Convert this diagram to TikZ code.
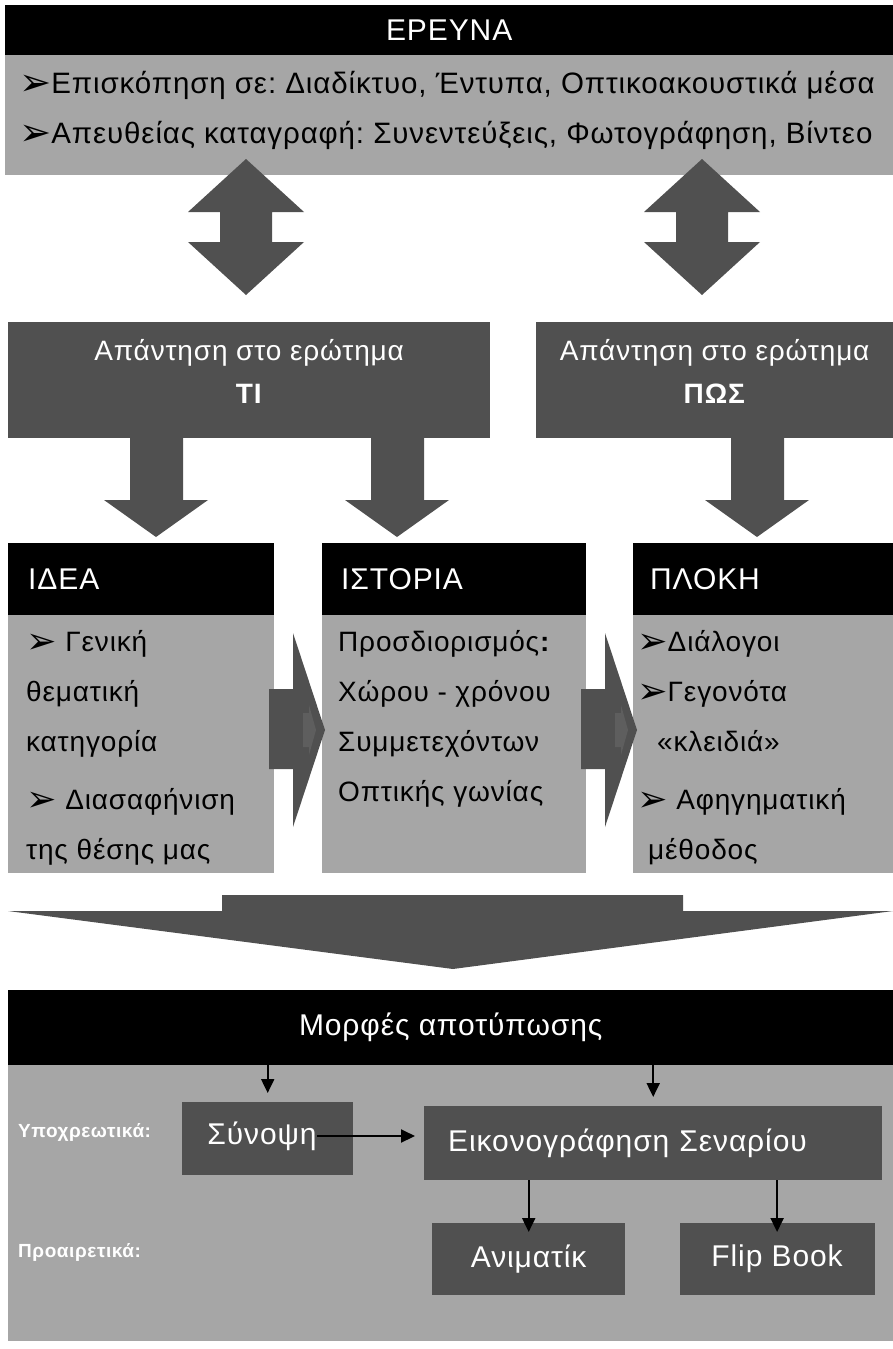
\documentclass[tikz,border=0pt]{standalone}
\usepackage{fontspec}
\usepackage{graphicx}
\setmainfont{Liberation Sans}[LetterSpace=3]
\newfontfamily\dingfont{DejaVu Sans}
\usetikzlibrary{arrows.meta, positioning}

\definecolor{boxgray}{RGB}{166,166,166}
\definecolor{arrowgray}{RGB}{80,80,80}
\definecolor{glintgray}{RGB}{94,94,94}
\newcommand{\pointer}{{\dingfont\raisebox{-2pt}{\scalebox{1.3}{➢}}}}
\frenchspacing

\tikzset{
  darkbar/.style={fill=black, text=white, inner sep=0pt, font=\fontsize{30}{36}\selectfont},
  lightbox/.style={fill=boxgray, inner sep=0pt},
  darkbox/.style={fill=arrowgray, text=white, inner sep=0pt, font=\fontsize{30}{36}\selectfont},
  whitetext/.style={text=white, inner sep=0pt, font=\fontsize{30}{36}\selectfont},
  bodytext/.style={anchor=north west, inner sep=0pt, align=left, font=\fontsize{28}{50}\selectfont},
  blockarrow/.style={fill=arrowgray},
  glint/.style={fill=glintgray},
  thinarrow/.style={-{Triangle[length=14pt,width=13pt]}, line width=2pt},
  sidelabel/.style={text=white, anchor=west, inner sep=0pt, font=\bfseries\fontsize{19}{19}\selectfont},
}

\begin{document}
\begin{tikzpicture}[x=1pt, y=-1pt]
  \useasboundingbox (0,0) rectangle (893,1349);

  \node[darkbar, anchor=north west, minimum width=888pt, minimum height=50pt] (research) at (5,5) {ΕΡΕΥΝΑ};
  \node[lightbox, anchor=north west, minimum width=888pt, minimum height=120pt] (sources) at (5,55) {};
  \node[bodytext, font=\fontsize{29.5}{50}\selectfont] (sourcestext) at (19,71)
       {\pointer Επισκόπηση σε: Διαδίκτυο, Έντυπα, Οπτικοακουστικά μέσα\\
        \pointer Απευθείας καταγραφή: Συνεντεύξεις, Φωτογράφηση, Βίντεο};

  \fill[blockarrow] (246,159) -- (304,212) -- (272,212) -- (272,242) -- (304,242) -- (246,295)
    -- (188,242) -- (220,242) -- (220,212) -- (188,212) -- cycle; % left double arrow
  \fill[blockarrow] (702,159) -- (760,212) -- (728,212) -- (728,242) -- (760,242) -- (702,295)
    -- (644,242) -- (676,242) -- (676,212) -- (644,212) -- cycle; % right double arrow

  \node[darkbox, anchor=north west, minimum width=482pt, minimum height=116pt] (what) at (8,322) {};
  \node[whitetext, align=center, font=\fontsize{28}{43}\selectfont] (whatlabel) at ([yshift=9pt]what.center)
       {Απάντηση στο ερώτημα\\\textbf{ΤΙ}};
  \node[darkbox, anchor=north west, minimum width=357pt, minimum height=116pt] (how) at (536,322) {};
  \node[whitetext, align=center, font=\fontsize{28}{43}\selectfont] (howlabel) at ([yshift=9pt]how.center)
       {Απάντηση στο ερώτημα\\\textbf{ΠΩΣ}};

  \fill[blockarrow] (130,438) -- (183,438) -- (183,500) -- (208,500) -- (156,537) -- (104,500) -- (130,500) -- cycle;
  \fill[blockarrow] (371,438) -- (424,438) -- (424,500) -- (449,500) -- (397,537) -- (345,500) -- (371,500) -- cycle;
  \fill[blockarrow] (731,438) -- (784,438) -- (784,500) -- (809,500) -- (757,537) -- (705,500) -- (731,500) -- cycle;

  % columns
  \node[darkbar, anchor=north west, minimum height=72pt, text width=226pt, inner xsep=20pt, align=left] (idea) at (8,543) {ΙΔΕΑ};
  \node[darkbar, anchor=north west, minimum height=72pt, text width=226pt, inner xsep=19pt, align=left] (story) at (322,543) {ΙΣΤΟΡΙΑ};
  \node[darkbar, anchor=north west, minimum height=72pt, text width=226pt, inner xsep=17pt, align=left] (plot) at (633,543) {ΠΛΟΚΗ};

  \node[lightbox, anchor=north west, minimum width=266pt, minimum height=258pt] (ideabox) at (8,615) {};
  \node[lightbox, anchor=north west, minimum width=264pt, minimum height=258pt] (storybox) at (322,615) {};
  \node[lightbox, anchor=north west, minimum width=260pt, minimum height=258pt] (plotbox) at (633,615) {};

  \node[bodytext] (ideatext) at (26,630)
       {\pointer{} Γενική\\ θεματική\\ κατηγορία\\[8pt] \pointer{} Διασαφήνιση\\ της θέσης μας};
  \node[bodytext] (storytext) at (338,630)
       {Προσδιορισμός\textbf{:}\\ Χώρου - χρόνου\\ Συμμετεχόντων\\ Οπτικής γωνίας};
  \node[bodytext] (plottext) at (637,630)
       {\pointer Διάλογοι\\ \pointer Γεγονότα\\ \hspace*{20pt}«κλειδιά»\\[8pt] \pointer{} Αφηγηματική\\ \hspace*{11pt}μέθοδος};

  \fill[blockarrow] (269,689) -- (293,689) -- (293,633) -- (325,730) -- (293,827) -- (293,769) -- (269,769) -- cycle;
  \fill[glint] (303,713) -- (309,713) -- (309,705) -- (316,730) -- (309,755) -- (309,747) -- (303,747) -- cycle;
  \fill[blockarrow] (581,689) -- (605,689) -- (605,633) -- (637,730) -- (605,827) -- (605,769) -- (581,769) -- cycle;
  \fill[glint] (615,713) -- (621,713) -- (621,705) -- (628,730) -- (621,755) -- (621,747) -- (615,747) -- cycle;

  \fill[blockarrow] (222,895) -- (683,895) -- (683,911) -- (893,911) -- (453,969) -- (8,911) -- (222,911) -- cycle; % wide arrow

  % forms
  \node[darkbar, anchor=north west, minimum width=885pt, minimum height=75pt] (forms) at (8,990) {Μορφές αποτύπωσης};
  \node[lightbox, anchor=north west, minimum width=885pt, minimum height=276pt] (formsarea) at (8,1065) {};

  \node[darkbox, anchor=north west, minimum width=171pt, minimum height=73pt] (synbox) at (182,1102) {};
  \node[whitetext] (synopsis) at (262,1136) {Σύνοψη};
  \node[darkbox, anchor=north west, minimum height=74pt, text width=410pt, inner xsep=24pt, align=left] (scenario) at (424,1106) {Εικονογράφηση Σεναρίου};
  \node[darkbox, anchor=north west, minimum width=193pt, minimum height=72pt] (animatic) at (432,1223) {Ανιματίκ};
  \node[darkbox, right=54pt of animatic, minimum width=195pt, minimum height=72pt] (flipbook) {Flip Book};

  \node[sidelabel] (mandatory) at (18,1132) {Υποχρεωτικά:};
  \node[sidelabel] (optional) at (18,1252) {Προαιρετικά:};

  \draw[thinarrow, shorten >=9pt] (forms.south -| synbox.north) -- (synbox.north);
  \draw[thinarrow, shorten >=9pt] (forms.south -| scenario.north) -- (scenario.north);
  \draw[thinarrow, shorten >=9pt] (synopsis.east) -- (synopsis.east -| scenario.west);
  \draw[thinarrow, shorten >=-9pt] (scenario.south -| animatic.north) -- (animatic.north); % into the box
  \draw[thinarrow, shorten >=-9pt] (scenario.south -| flipbook.north) -- (flipbook.north);
\end{tikzpicture}
\end{document}
